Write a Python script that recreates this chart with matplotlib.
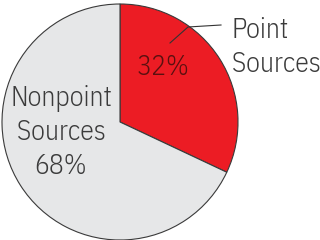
import matplotlib
matplotlib.use("Agg")
import matplotlib.pyplot as plt

labels = ["Point\nSources", "Nonpoint\nSources"]
shares = [32, 68]
colors = ["#ec1c24", "#e6e7e8"]

plt.rcParams['font.family'] = ['IBM Plex Sans Condensed', 'DejaVu Sans']
plt.rcParams['font.weight'] = 300

fig = plt.figure(figsize=(3.2, 2.4), dpi=100)
ax = fig.add_axes([0, 0, 1, 1])

# pie: red slice from top going clockwise
ax.pie(shares, colors=colors, startangle=90, counterclock=False, radius=1.0,
       wedgeprops=dict(edgecolor="#3a3a3a", linewidth=0.8))

# pixel -> data helper (center at 120,122, radius 118 px)
def px(x, y):
    return (x - 120) / 118, (122 - y) / 118

ax.set_xlim(px(0, 0)[0], px(320, 0)[0])
ax.set_ylim(px(0, 240)[1], px(0, 0)[1])
ax.set_aspect('equal')
ax.axis('off')

tc = "#3b3b3b"
fs = 20
step = 34  # baseline spacing in px

def block(lines, x0, y0, ha, color):
    for i, s in enumerate(lines):
        x, y = px(x0, y0 + i * step)
        ax.text(x, y, s, ha=ha, va='baseline', fontsize=fs, color=color)

block([f"{shares[0]}%"], 163, 75, 'center', "#5a1010")
block(labels[1].split("\n") + [f"{shares[1]}%"], 61, 106, 'center', tc)
block(labels[0].split("\n"), 232, 38, 'left', tc)

# leader line
pts = [px(170, 43), px(188, 27), px(221, 25)]
ax.plot([p[0] for p in pts], [p[1] for p in pts], color="#333333", lw=0.8)

fig.savefig("out.png", dpi=100)
